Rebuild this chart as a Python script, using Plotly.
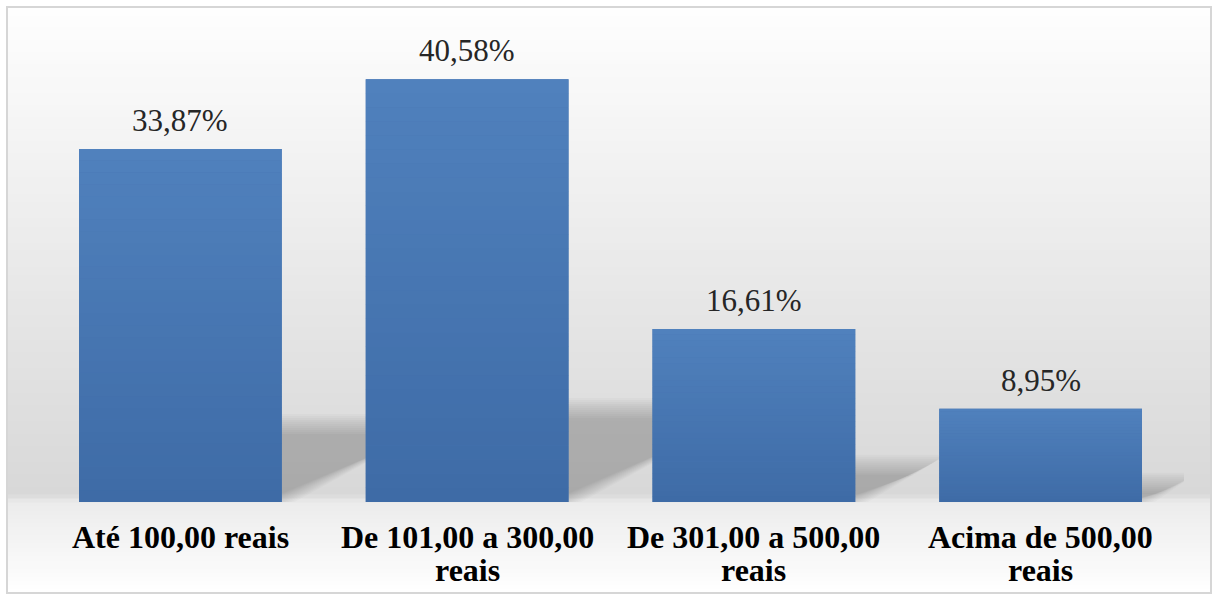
import plotly.graph_objects as go

# Faixas de gasto e percentual de respondentes
categorias = ["Até 100,00 reais", "De 101,00 a 300,00<br>reais",
              "De 301,00 a 500,00<br>reais", "Acima de 500,00<br>reais"]
percentuais = [33.87, 40.58, 16.61, 8.95]

W, H = 1214, 594
ML, MR, MT, MB = 37, 30, 20, 92
PW, PH = W - ML - MR, H - MT - MB
Y_MAX = 46.26
X_MIN, X_MAX = -0.5, 3.5
BAR_W = 0.707
SERIF = "Liberation Serif"

X_PER_PX = (X_MAX - X_MIN) / PW
Y_PER_PX = Y_MAX / PH


def px_x(px):
    return (px - ML) / PW


def px_y(py):
    return (H - MB - py) / PH


def mix(c0, c1, t):
    return "rgb(%d,%d,%d)" % tuple(round(a + (b - a) * t) for a, b in zip(c0, c1))


def rotulo(v):
    return f"{v:.2f}".replace(".", ",") + "%"


xs = list(range(len(categorias)))

fig = go.Figure()
fig.add_trace(go.Bar(
    x=xs, y=percentuais, width=BAR_W,
    marker=dict(color="#4775b0", line=dict(width=0)),
    hoverinfo="skip",
))

shapes = []

# fundo em degradê: claro no topo, cinza junto à base das barras, claro no piso
stops = [(8, (254, 254, 254)), (150, (243, 243, 243)), (320, (229, 229, 229)),
         (495, (216, 216, 216)), (503, (236, 236, 236)), (594, (255, 255, 255))]
for (y0, c0), (y1, c1) in zip(stops[:-1], stops[1:]):
    n = max(1, int((y1 - y0) / 4))
    for k in range(n):
        a = y0 + (y1 - y0) * k / n
        b = y0 + (y1 - y0) * (k + 1) / n
        shapes.append(dict(
            type="rect", xref="paper", yref="paper", layer="below",
            x0=px_x(8), x1=px_x(1211), y0=px_y(a - 0.6), y1=px_y(b + 0.6),
            line=dict(width=0), fillcolor=mix(c0, c1, (k + 0.5) / n),
        ))

# sombras em perspectiva atrás das barras (camadas suaves)
for i, v in zip(xs, percentuais):
    hs = 0.227 * v
    hs_px = hs / Y_PER_PX
    dx = 2 * hs_px * X_PER_PX
    xl, xr = i - BAR_W / 2, i + BAR_W / 2
    for d in range(-12, 10, 2):
        top = max(hs + d * Y_PER_PX, 0.3)
        shift = d * 1.6 * X_PER_PX
        path = (f"M {xl},0 L {xr + shift},0 L {xr + dx + shift},{top} "
                f"L {xl + dx},{top} Z")
        shapes.append(dict(
            type="path", xref="x", yref="y", layer="below", path=path,
            line=dict(width=0), fillcolor="rgba(0,0,0,0.019)",
        ))

# degradê vertical das barras
top_c, bot_c = (80, 129, 189), (62, 107, 166)
for i, v in zip(xs, percentuais):
    n = 30
    for k in range(n):
        y0 = v * k / n
        y1 = v * (k + 1) / n + (0.02 if k < n - 1 else 0)
        shapes.append(dict(
            type="rect", xref="x", yref="y", layer="above",
            x0=i - BAR_W / 2, x1=i + BAR_W / 2, y0=y0, y1=y1,
            line=dict(width=0), fillcolor=mix(bot_c, top_c, (k + 0.5) / n),
        ))

# moldura do gráfico
shapes.append(dict(
    type="rect", xref="paper", yref="paper", layer="above",
    x0=px_x(7), x1=px_x(1211), y0=px_y(593), y1=px_y(7),
    line=dict(color="#d6d6d6", width=2), fillcolor="rgba(0,0,0,0)",
))

annotations = []
for i, v in zip(xs, percentuais):
    annotations.append(dict(
        x=i, y=v, xref="x", yref="y", text=rotulo(v), showarrow=False,
        yanchor="bottom", yshift=9,
        font=dict(family=SERIF, size=31, color="#262626"),
    ))

for i, cat in zip(xs, categorias):
    for j, linha in enumerate(cat.split("<br>")):
        annotations.append(dict(
            x=i, y=0, xref="x", yref="paper", text=f"<b>{linha}</b>",
            showarrow=False, yanchor="top", yshift=-15 - 33 * j,
            font=dict(family=SERIF, size=32, color="#000000"),
        ))

fig.update_layout(
    width=W, height=H,
    margin=dict(l=ML, r=MR, t=MT, b=MB),
    paper_bgcolor="white", plot_bgcolor="rgba(0,0,0,0)",
    showlegend=False,
    xaxis=dict(range=[X_MIN, X_MAX], visible=False, fixedrange=True),
    yaxis=dict(range=[0, Y_MAX], visible=False, fixedrange=True),
    shapes=shapes, annotations=annotations,
)

fig.write_html("out.html")
